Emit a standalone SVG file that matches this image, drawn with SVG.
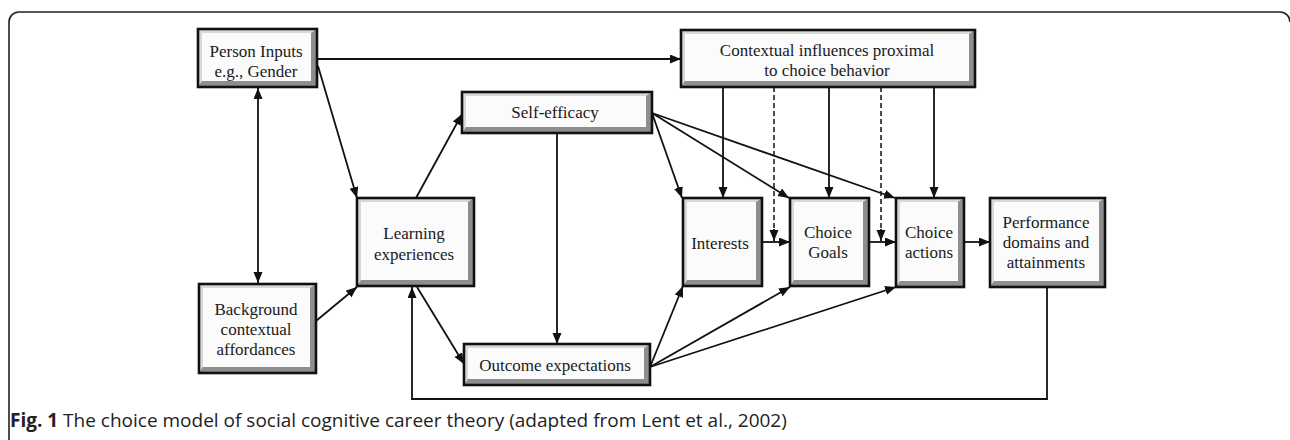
<svg xmlns="http://www.w3.org/2000/svg" width="1290" height="440" viewBox="0 0 1290 440">
<style>
.dk{fill:#8e8e8e}
.lt{fill:#d8d8d8}
.fc{fill:#fbfbfb}
.bd{fill:none;stroke:#111;stroke-width:2.6}
.t{font-family:"Liberation Serif","Times New Roman",serif;font-size:17px;fill:#1a1a1a;text-anchor:middle}
.c{fill:none;stroke:#111;stroke-width:1.8}
.d{fill:none;stroke:#111;stroke-width:1.5;stroke-dasharray:5,3}
.cap{font-family:"Open Sans","Noto Sans",sans-serif;font-size:19px;fill:#222}
</style>
<defs>
<marker id="ah" markerUnits="userSpaceOnUse" markerWidth="12" markerHeight="10" refX="11" refY="4.5" orient="auto-start-reverse" viewBox="0 0 12 10">
<path d="M0,0 L11,4.5 L0,9 Z" fill="#111"/>
</marker>
</defs>
<rect width="1290" height="440" fill="#fff"/>
<path d="M9,445 V22 A10,10 0 0 1 19,12 H1280 A10,10 0 0 1 1290,22" fill="none" stroke="#222" stroke-width="1.6"/>

<g id="connectors">
<path class="c" d="M258,88 V283" marker-start="url(#ah)" marker-end="url(#ah)"/>
<path class="c" d="M317,59 H681" marker-end="url(#ah)"/>
<path class="c" d="M318,66 L357,198" marker-end="url(#ah)"/>
<path class="c" d="M316,321 L357,287" marker-end="url(#ah)"/>
<path class="c" d="M416,198 L462,114" marker-end="url(#ah)"/>
<path class="c" d="M417,287 L464,364" marker-end="url(#ah)"/>
<path class="c" d="M557,133 V344" marker-end="url(#ah)"/>
<path class="c" d="M652,113 L682,198" marker-end="url(#ah)"/>
<path class="c" d="M652,113 L789,198" marker-end="url(#ah)"/>
<path class="c" d="M652,113 L895,198" marker-end="url(#ah)"/>
<path class="c" d="M650,367 L683,286" marker-end="url(#ah)"/>
<path class="c" d="M650,367 L790,287" marker-end="url(#ah)"/>
<path class="c" d="M650,367 L896,287" marker-end="url(#ah)"/>
<path class="c" d="M723,87 V198" marker-end="url(#ah)"/>
<path class="c" d="M829,87 V198" marker-end="url(#ah)"/>
<path class="c" d="M934,87 V198" marker-end="url(#ah)"/>
<path class="d" d="M774,87 V230"/>
<path class="c" d="M774,229 V241" marker-end="url(#ah)"/>
<path class="d" d="M881,87 V230"/>
<path class="c" d="M881,229 V241" marker-end="url(#ah)"/>
<path class="c" d="M762,242 H790" marker-end="url(#ah)"/>
<path class="c" d="M869,242 H896" marker-end="url(#ah)"/>
<path class="c" d="M964,242 H990" marker-end="url(#ah)"/>
<path class="c" d="M1047,287 V399 H412 V287" marker-end="url(#ah)"/>
</g>

<g id="person">
<rect class="dk" x="198" y="29" width="119" height="58"/>
<path class="lt" d="M198,29 H317 L311,33 H202 V81 L198,87 Z"/>
<rect class="fc" x="202" y="33" width="109" height="48"/>
<rect class="bd" x="198" y="29" width="119" height="58"/>
<text class="t" x="256" y="57">Person Inputs</text>
<text class="t" x="256" y="77">e.g., Gender</text>
</g>

<g id="context">
<rect class="dk" x="681" y="30" width="294" height="57"/>
<path class="lt" d="M681,30 H975 L969,34 H685 V81 L681,87 Z"/>
<rect class="fc" x="685" y="34" width="284" height="47"/>
<rect class="bd" x="681" y="30" width="294" height="57"/>
<text class="t" x="827" y="56">Contextual influences proximal</text>
<text class="t" x="827" y="76">to choice behavior</text>
</g>

<g id="self-efficacy">
<rect class="dk" x="462" y="92" width="190" height="41"/>
<path class="lt" d="M462,92 H652 L646,96 H466 V127 L462,133 Z"/>
<rect class="fc" x="466" y="96" width="180" height="31"/>
<rect class="bd" x="462" y="92" width="190" height="41"/>
<text class="t" x="555" y="118">Self-efficacy</text>
</g>

<g id="learning">
<rect class="dk" x="357" y="198" width="117" height="88"/>
<path class="lt" d="M357,198 H474 L468,202 H361 V280 L357,286 Z"/>
<rect class="fc" x="361" y="202" width="107" height="78"/>
<rect class="bd" x="357" y="198" width="117" height="88"/>
<text class="t" x="414" y="239">Learning</text>
<text class="t" x="414" y="260">experiences</text>
</g>

<g id="background">
<rect class="dk" x="199" y="284" width="117" height="89"/>
<path class="lt" d="M199,284 H316 L310,288 H203 V367 L199,373 Z"/>
<rect class="fc" x="203" y="288" width="107" height="79"/>
<rect class="bd" x="199" y="284" width="117" height="89"/>
<text class="t" x="256" y="315">Background</text>
<text class="t" x="256" y="335">contextual</text>
<text class="t" x="256" y="355">affordances</text>
</g>

<g id="outcome">
<rect class="dk" x="464" y="344" width="186" height="41"/>
<path class="lt" d="M464,344 H650 L644,348 H468 V379 L464,385 Z"/>
<rect class="fc" x="468" y="348" width="176" height="31"/>
<rect class="bd" x="464" y="344" width="186" height="41"/>
<text class="t" x="555" y="371">Outcome expectations</text>
</g>

<g id="interests">
<rect class="dk" x="683" y="198" width="79" height="88"/>
<path class="lt" d="M683,198 H762 L756,202 H687 V280 L683,286 Z"/>
<rect class="fc" x="687" y="202" width="69" height="78"/>
<rect class="bd" x="683" y="198" width="79" height="88"/>
<text class="t" x="720" y="249">Interests</text>
</g>

<g id="goals">
<rect class="dk" x="790" y="198" width="79" height="88"/>
<path class="lt" d="M790,198 H869 L863,202 H794 V280 L790,286 Z"/>
<rect class="fc" x="794" y="202" width="69" height="78"/>
<rect class="bd" x="790" y="198" width="79" height="88"/>
<text class="t" x="828" y="238">Choice</text>
<text class="t" x="828" y="258">Goals</text>
</g>

<g id="actions">
<rect class="dk" x="896" y="198" width="68" height="89"/>
<path class="lt" d="M896,198 H964 L958,202 H900 V281 L896,287 Z"/>
<rect class="fc" x="900" y="202" width="58" height="79"/>
<rect class="bd" x="896" y="198" width="68" height="89"/>
<text class="t" x="929" y="238">Choice</text>
<text class="t" x="929" y="258">actions</text>
</g>

<g id="performance">
<rect class="dk" x="990" y="198" width="115" height="89"/>
<path class="lt" d="M990,198 H1105 L1099,202 H994 V281 L990,287 Z"/>
<rect class="fc" x="994" y="202" width="105" height="79"/>
<rect class="bd" x="990" y="198" width="115" height="89"/>
<text class="t" x="1046" y="228">Performance</text>
<text class="t" x="1046" y="248">domains and</text>
<text class="t" x="1046" y="268">attainments</text>
</g>

<text class="cap" x="10" y="427"><tspan font-weight="bold">Fig. 1</tspan> The choice model of social cognitive career theory (adapted from Lent et al., 2002)</text>
</svg>
